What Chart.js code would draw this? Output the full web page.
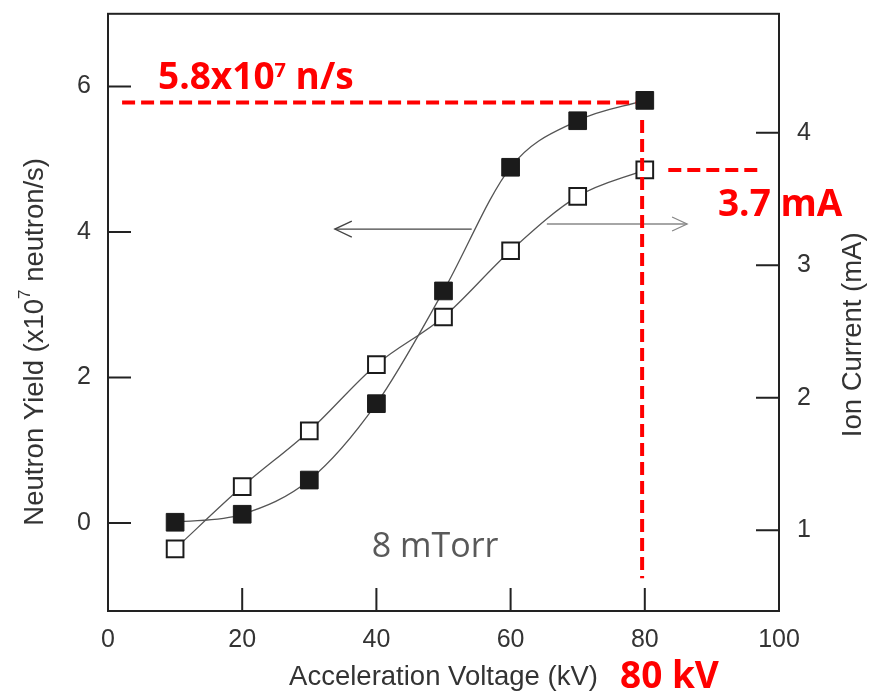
<!DOCTYPE html>
<html>
<head>
<meta charset="utf-8">
<script src="https://cdn.jsdelivr.net/npm/chart.js@4.4.0/dist/chart.umd.min.js"></script>
<style>
body{margin:0;background:#fff;}
#wrap{width:875px;height:698px;position:relative;}
</style>
</head>
<body>
<div id="wrap"><canvas id="myChart"></canvas></div>
<script>
var voltage = [10, 20, 30, 40, 50, 60, 70, 80];
var neutronYield = [0.01, 0.12, 0.59, 1.64, 3.19, 4.89, 5.53, 5.81];
var ionCurrent = [0.86, 1.33, 1.75, 2.25, 2.61, 3.11, 3.52, 3.72];
var xTicks = [0, 20, 40, 60, 80, 100];
var yieldTicks = [0, 2, 4, 6];
var currentTicks = [1, 2, 3, 4];
// red guide lines
var yieldMark = 5.78;
var currentMark = 3.72;
var voltageMark = 79.6;

var axisFont = '27.5px "Liberation Sans", Arial, sans-serif';
var redFont = 'bold 37px "Open Sans", sans-serif';
var inkColor = '#333';

function toPoints(ys){
  var pts = [];
  for(var i = 0;i < voltage.length;i++){
    pts.push({x: voltage[i], y: ys[i]});
  }
  return pts;
}

function setTicks(list){
  return function(scale){
    scale.ticks = list.map(function(v){ return {value: v}; });
  };
}

// fixed axis sizes, no extra edge padding for the labels
function fixWidth(w){
  return function(scale){
    scale.width = w;
    scale.paddingTop = 0;
    scale.paddingBottom = 0;
  };
}

// draws pieces of text side by side (for the superscripts)
function drawRuns(ctx, parts, x, y, align){
  var total = 0, i;
  for(i = 0;i < parts.length;i++){
    ctx.font = parts[i].font;
    parts[i].w = ctx.measureText(parts[i].t).width;
    total += parts[i].w;
  }
  var cx = align == 'center' ? x - total/2 : x;
  ctx.textAlign = 'left';
  for(i = 0;i < parts.length;i++){
    ctx.font = parts[i].font;
    ctx.fillText(parts[i].t, cx, y + (parts[i].dy || 0));
    cx += parts[i].w;
  }
}

function dashed(ctx, x1, y1, x2, y2){
  ctx.save();
  ctx.strokeStyle = '#ff0000';
  ctx.lineWidth = 4;
  ctx.setLineDash([13, 6]);
  ctx.beginPath();
  ctx.moveTo(x1, y1);
  ctx.lineTo(x2, y2);
  ctx.stroke();
  ctx.restore();
}

function arrow(ctx, x1, x2, y, dir, color, len, half){
  ctx.save();
  ctx.strokeStyle = color;
  ctx.lineWidth = 1.3;
  ctx.beginPath();
  ctx.moveTo(x1, y);
  ctx.lineTo(x2, y);
  ctx.stroke();
  var tip = dir < 0 ? x1 : x2;
  ctx.beginPath();
  ctx.moveTo(tip - dir*len, y - half);
  ctx.lineTo(tip, y);
  ctx.lineTo(tip - dir*len, y + half);
  ctx.stroke();
  ctx.restore();
}

var overlay = {
  id: 'overlay',
  beforeDatasetsDraw: function(chart){
    var ctx = chart.ctx, s = chart.scales;
    var yl = s.y;
    // the two direction arrows
    arrow(ctx, s.x.getPixelForValue(33.8), s.x.getPixelForValue(54.2), yl.getPixelForValue(4.04), -1, '#444', 17, 8);
    arrow(ctx, s.x.getPixelForValue(65.4), s.x.getPixelForValue(86.3), yl.getPixelForValue(4.11), 1, '#888', 15, 7);
  },
  afterDatasetsDraw: function(chart){
    var ctx = chart.ctx, s = chart.scales, a = chart.chartArea;
    var x = s.x, yl = s.y, yr = s.y2;

    dashed(ctx, x.getPixelForValue(2.1), yl.getPixelForValue(yieldMark), x.getPixelForValue(78.6), yl.getPixelForValue(yieldMark));
    dashed(ctx, x.getPixelForValue(voltageMark), yl.getPixelForValue(5.54), x.getPixelForValue(voltageMark), yl.getPixelForValue(-0.76));
    dashed(ctx, x.getPixelForValue(83.5), yr.getPixelForValue(currentMark), x.getPixelForValue(97.2), yr.getPixelForValue(currentMark));

    ctx.save();
    ctx.textBaseline = 'alphabetic';
    ctx.fillStyle = '#ff0000';
    drawRuns(ctx, [
      {t: '5.8x10', font: redFont},
      {t: '7', font: 'bold 20px "Open Sans", sans-serif', dy: -12},
      {t: ' n/s', font: redFont}
    ], x.getPixelForValue(7.45), yl.getPixelForValue(5.97), 'left');
    drawRuns(ctx, [{t: '3.7 mA', font: redFont}], x.getPixelForValue(90.9), yr.getPixelForValue(3.37), 'left');
    drawRuns(ctx, [{t: '80 kV', font: redFont}], x.getPixelForValue(76.3), a.bottom + 77, 'left');

    ctx.fillStyle = '#595959';
    drawRuns(ctx, [{t: '8 mTorr', font: '34px "Open Sans", sans-serif'}], x.getPixelForValue(39.3), yl.getPixelForValue(-0.47), 'left');
    ctx.restore();
  },
  afterDraw: function(chart){
    var ctx = chart.ctx, s = chart.scales, a = chart.chartArea;
    ctx.save();
    // frame
    ctx.strokeStyle = '#222';
    ctx.lineWidth = 2;
    ctx.strokeRect(a.left, a.top, a.right - a.left, a.bottom - a.top);
    // inward ticks
    var tl = 23;
    ctx.beginPath();
    xTicks.forEach(function(v){
      var px = s.x.getPixelForValue(v);
      ctx.moveTo(px, a.bottom); ctx.lineTo(px, a.bottom - tl);
    });
    yieldTicks.forEach(function(v){
      var py = s.y.getPixelForValue(v);
      ctx.moveTo(a.left, py); ctx.lineTo(a.left + tl, py);
    });
    currentTicks.forEach(function(v){
      var py = s.y2.getPixelForValue(v);
      ctx.moveTo(a.right, py); ctx.lineTo(a.right - tl, py);
    });
    ctx.stroke();

    // y titles, both reading bottom to top
    ctx.fillStyle = inkColor;
    ctx.textBaseline = 'middle';
    ctx.save();
    ctx.translate(35, a.top + 328);
    ctx.rotate(-Math.PI/2);
    drawRuns(ctx, [
      {t: 'Neutron Yield (x10', font: axisFont},
      {t: '7', font: '17px "Liberation Sans", Arial, sans-serif', dy: -10},
      {t: ' neutron/s)', font: axisFont}
    ], 0, 0, 'center');
    ctx.restore();
    ctx.save();
    ctx.translate(853, a.top + 321);
    ctx.rotate(-Math.PI/2);
    drawRuns(ctx, [{t: 'Ion Current (mA)', font: axisFont}], 0, 0, 'center');
    ctx.restore();
    ctx.restore();
  }
};

var ctx = document.getElementById('myChart').getContext('2d');
var chart = new Chart(ctx, {
  type: 'line',
  data: {
    datasets: [{
      label: 'Neutron Yield',
      data: toPoints(neutronYield),
      yAxisID: 'y',
      borderColor: '#555',
      borderWidth: 1.3,
      cubicInterpolationMode: 'monotone',
      fill: false,
      pointStyle: 'rect',
      pointRadius: 12.5,
      pointBackgroundColor: '#1b1b1b',
      pointBorderColor: '#1b1b1b',
      pointBorderWidth: 1
    }, {
      label: 'Ion Current',
      data: toPoints(ionCurrent),
      yAxisID: 'y2',
      borderColor: '#555',
      borderWidth: 1.3,
      cubicInterpolationMode: 'monotone',
      fill: false,
      pointStyle: 'rect',
      pointRadius: 11.8,
      pointBackgroundColor: '#fff',
      pointBorderColor: '#1b1b1b',
      pointBorderWidth: 2
    }]
  },
  options: {
    responsive: true,
    maintainAspectRatio: false,
    animation: false,
    layout: {padding: {top: 4, left: 0, right: 0, bottom: 0}},
    plugins: {legend: {display: false}, tooltip: {enabled: false}},
    scales: {
      x: {
        type: 'linear',
        min: 0, max: 100,
        afterBuildTicks: setTicks(xTicks),
        afterFit: function(scale){ scale.height = 87; },
        grid: {display: false, drawTicks: false},
        border: {display: false},
        ticks: {padding: 14, color: inkColor, font: {family: '"Liberation Sans", Arial, sans-serif', size: 25}, maxRotation: 0},
        title: {display: true, text: 'Acceleration Voltage (kV)', color: inkColor, padding: {top: 0, bottom: 4},
                font: {family: '"Liberation Sans", Arial, sans-serif', size: 27.5}}
      },
      y: {
        position: 'left',
        min: -1.21, max: 7,
        afterBuildTicks: setTicks(yieldTicks),
        afterFit: fixWidth(108),
        grid: {display: false, drawTicks: false},
        border: {display: false},
        ticks: {padding: 17, color: inkColor, font: {family: '"Liberation Sans", Arial, sans-serif', size: 25}}
      },
      y2: {
        position: 'right',
        min: 0.391, max: 4.898,
        afterBuildTicks: setTicks(currentTicks),
        afterFit: fixWidth(96),
        grid: {display: false, drawTicks: false},
        border: {display: false},
        ticks: {padding: 18, color: inkColor, font: {family: '"Liberation Sans", Arial, sans-serif', size: 25}}
      }
    }
  },
  plugins: [overlay]
});
</script>
</body>
</html>
